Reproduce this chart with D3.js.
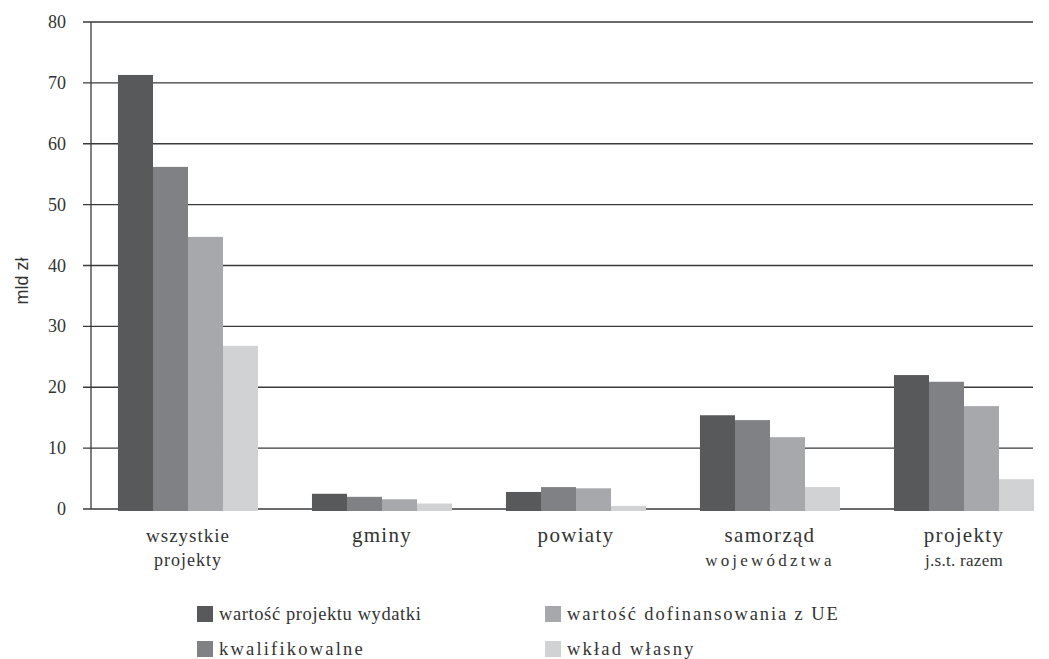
<!DOCTYPE html>
<html>
<head>
<meta charset="utf-8">
<script src="https://cdn.jsdelivr.net/npm/d3@7"></script>
<style>
  body { margin: 0; background: #fff; }
  svg { display: block; }
</style>
</head>
<body>
<svg width="1049" height="659"></svg>
<script>
var categories = ["wszystkie projekty", "gminy", "powiaty", "samorząd województwa", "projekty j.s.t. razem"];
var catLines = [["wszystkie", "projekty"], ["gminy"], ["powiaty"], ["samorząd", "województwa"], ["projekty", "j.s.t. razem"]];
var seriesNames = ["wartość projektu wydatki", "kwalifikowalne", "wartość dofinansowania z UE", "wkład własny"];
var wartosc      = [71.3, 2.5, 2.8, 15.4, 22.0];
var kwalif       = [56.2, 2.0, 3.6, 14.6, 20.9];
var dofinans     = [44.7, 1.6, 3.4, 11.8, 16.9];
var wklad        = [26.8, 0.9, 0.5, 3.6, 4.9];
var yTicks = [0, 10, 20, 30, 40, 50, 60, 70, 80];
var colors = ["#58595b", "#808184", "#a7a8ab", "#d1d2d4"];

var series = [wartosc, kwalif, dofinans, wklad];

var svg = d3.select("svg"),
    pLeft = 91, pRight = 1033, pTop = 22, pBottom = 509;

var y = d3.scaleLinear().domain([0, 80]).range([pBottom, pTop]);
var x0 = d3.scaleBand().domain(categories).range([pLeft, 1061]).paddingInner(0.278).paddingOuter(0.139);
var x1 = d3.scaleBand().domain(d3.range(4)).range([0, x0.bandwidth()]);

// gridlines
svg.append("g").selectAll("line").data(yTicks).enter().append("line")
  .attr("x1", pLeft - 8).attr("x2", pRight)
  .attr("y1", d => y(d)).attr("y2", d => y(d))
  .attr("stroke", "#3a3a3a").attr("stroke-width", 1.3);

// tick labels
svg.append("g").selectAll("text").data(yTicks).enter().append("text")
  .attr("x", 66).attr("y", d => y(d) + 6)
  .attr("text-anchor", "end")
  .style("font-family", "Liberation Serif, serif").style("font-size", "18px").attr("fill", "#333")
  .text(d => d);

// bars
var groups = svg.append("g").selectAll("g").data(categories).enter().append("g")
  .attr("transform", d => "translate(" + x0(d) + ",0)");

groups.selectAll("rect").data((d, i) => series.map((s, j) => ({ j: j, v: s[i] }))).enter().append("rect")
  .attr("x", d => x1(d.j))
  .attr("width", x1.bandwidth())
  .attr("y", d => y(d.v))
  .attr("height", d => y(0) - y(d.v) + 2)
  .attr("fill", d => colors[d.j]);

// y axis line
svg.append("line").attr("x1", pLeft).attr("x2", pLeft).attr("y1", pTop).attr("y2", pBottom)
  .attr("stroke", "#3a3a3a").attr("stroke-width", 1.3);

// y label
svg.append("text")
  .attr("transform", "translate(28,281) rotate(-90)")
  .attr("text-anchor", "middle")
  .style("font-family", "Liberation Sans Narrow, Liberation Sans, sans-serif").style("font-size", "18px").attr("fill", "#333")
  .text("mld zł");

// category labels
catLines.forEach(function (lines, i) {
  var cx = x0(categories[i]) + x0.bandwidth() / 2;
  lines.forEach(function (t, k) {
    var txt = svg.append("text")
      .attr("x", cx).attr("y", 542 + k * 24)
      .attr("text-anchor", "middle")
      .style("font-family", "Liberation Serif, serif").attr("fill", "#333")
      .style("font-size", k == 0 ? "21px" : "17px")
      .style("letter-spacing", k == 0 ? "1.3px" : "1px")
      .text(t);
    if (i == 0) txt.style("font-size", k == 0 ? "19px" : "18px").style("letter-spacing", "1px");
    if (t == "województwa") txt.style("letter-spacing", "3.2px");
    if (t == "j.s.t. razem") txt.style("letter-spacing", "0.3px");
  });
});

// legend
var legPos = [[197, 614], [197, 649], [545, 614], [545, 649]];
var legSpacing = [0.6, 2.2, 1.9, 2.2];
var leg = svg.append("g").selectAll("g").data(seriesNames).enter().append("g")
  .attr("transform", (d, i) => "translate(" + legPos[i][0] + "," + legPos[i][1] + ")");
leg.append("rect").attr("x", 0).attr("y", -8).attr("width", 16).attr("height", 16)
  .attr("fill", (d, i) => colors[i]);
leg.append("text").attr("x", 22).attr("y", 6)
  .style("font-family", "Liberation Serif, serif").style("font-size", "18.5px").attr("fill", "#333")
  .style("letter-spacing", (d, i) => legSpacing[i] + "px")
  .text(d => d);
</script>
</body>
</html>
